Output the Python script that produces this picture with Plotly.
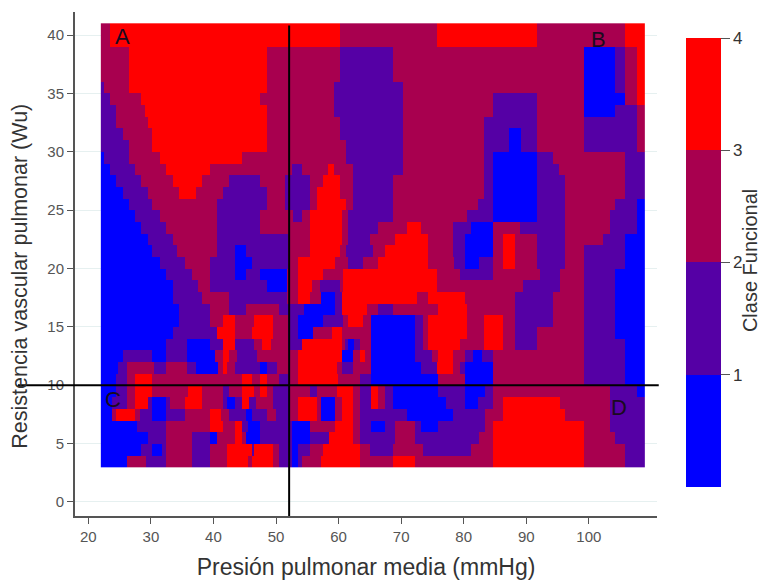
import numpy as np
import plotly.graph_objects as go

# Each row: class, x where it ends, class, x where it ends, ... last class runs to the right edge
rows_top_down = [
 [3,23.5,4,60.3,3,75.8,4,91.8,3,105.8,4],
 [3,23.5,4,60.3,3,75.8,4,91.8,3,105.8,4],
 [3,26.4,4,48.4,3,60.3,2,68.8,3,99.2,1,104.3,2,105.8,3,107.7,4],
 [3,26.4,4,48.4,3,60.3,2,68.8,3,99.2,1,104.3,2,105.8,3,107.7,4],
 [3,26.4,4,48.4,3,60.3,2,68.8,3,99.2,1,104.3,2,105.8,3,107.7,4],
 [2,22.5,3,26.4,4,48.4,3,59.3,2,70.3,3,99.2,1,104.3,2,105.8,3,107.7,4],
 [2,23.5,3,28.5,4,47.5,3,59.3,2,70.3,3,84.8,2,91.8,3,99.2,1,105.8,3,107.7,4],
 [2,24.5,3,29,4,48.4,3,59.3,2,70.3,3,84.8,2,91.8,3,99.2,1,104.3,2,107.7,3],
 [2,24.5,3,29.4,4,48.4,3,60.3,2,70.3,3,83.3,2,91.8,3,99.2,2,107.7,3],
 [2,25.4,3,30.3,4,48.4,3,60.3,2,70.3,3,83.3,2,87.2,1,89.3,2,91.8,3,99.2,2,107.7,3],
 [2,26.4,3,30.3,4,48.4,3,61.3,2,70.3,3,83.3,2,87.2,1,89.3,2,91.8,3,99.2,2,107.7,3],
 [1,22.5,2,26.4,3,31.4,4,44.5,3,61.3,2,70.3,3,83.3,2,84.8,1,91.8,2,94.2,3,105.8,2],
 [1,23.5,2,27.5,3,32.5,4,39.4,3,52.5,2,54.3,3,58.2,4,59.3,3,62.3,2,70.3,3,83.3,2,84.8,1,91.8,2,95.3,3,105.8,2],
 [1,24.5,2,28.5,3,33.5,4,38.3,3,42.4,2,47.4,3,51.4,2,55.4,3,57.4,4,60.3,3,62.3,2,68.8,3,83.3,2,84.8,1,91.8,2,96.3,3,105.8,2],
 [1,25.4,2,29.4,3,34.6,4,37.2,3,41.5,2,48.4,3,51.4,2,55.4,3,56.5,4,60.3,3,62.3,2,68.8,3,83.3,2,84.8,1,91.8,2,96.3,3,105.8,2],
 [1,26.4,2,30.3,3,40.5,2,48.4,3,51.4,2,55.4,3,56.5,4,61.3,3,62.3,2,68.8,3,82.3,2,84.8,1,91.8,2,96.3,3,104.3,2,107.7,1],
 [1,27.5,2,31.4,3,40.5,2,47.4,3,52.7,2,54.3,3,55.5,4,60.5,3,61.5,2,68.8,3,80.5,2,84.8,1,91.8,2,96.3,3,103.4,2,107.7,1],
 [1,28.5,2,32.5,3,40.5,2,47.4,3,55.4,4,60.5,3,61.5,2,66.3,3,71,4,73.3,3,78.3,2,81.3,1,84.8,3,89,2,96.3,3,103.4,2,107.7,1],
 [1,29.4,2,33.5,3,40.5,2,52,3,55.4,4,60.5,3,61.5,2,65,3,69,4,74.3,3,78.3,2,80.3,1,84.8,3,86.3,4,88.3,3,91.7,2,96.3,3,102.3,2,105.8,1],
 [1,30.3,2,34.3,3,40.5,2,43.4,1,45.3,2,52,3,55.4,4,60.2,3,61.3,2,65.5,3,67.4,4,74.3,3,78.3,2,80.3,1,84.8,3,86.3,4,88.3,3,91.8,2,96.3,3,99.2,2,105.8,1],
 [1,31.4,2,35.4,3,39.5,2,43.4,1,46.3,2,52,3,53.5,4,59.4,3,61.5,2,64,3,66.3,4,74.3,3,78.5,2,80.3,1,82.5,2,84.8,3,86.3,4,88.3,3,91.8,2,96.3,3,99.2,2,105.8,1],
 [1,32.5,2,36.5,3,39.5,2,43.4,1,45.3,2,47.4,1,51.7,3,53.5,4,57.5,3,60.7,4,75.7,3,79.4,2,84.7,3,92.2,2,95.4,3,99.2,2,104.3,1],
 [1,33.5,2,37.5,3,39.5,2,48.5,1,51.7,3,53.5,4,55.7,3,57,2,60.2,3,60.7,4,75.7,3,89.5,2,95.4,3,99.2,2,104.3,1],
 [1,33.5,2,38.3,3,42.6,2,51.7,3,53.5,4,55.5,3,57.2,1,59.4,2,60.5,4,72.5,3,74.3,4,80.2,3,88.2,2,94.2,3,99.2,2,104.3,1],
 [1,34.5,2,39.5,3,42.6,2,45.3,3,50.6,2,54.5,1,59.4,2,60.5,4,64.5,3,66.3,2,68.7,3,76,4,80.5,3,88.2,2,94.2,3,99.2,2,104.3,1],
 [1,34.5,2,39.5,3,41.5,4,43.4,3,46.6,4,49.5,3,52,2,53.5,1,57.5,2,60.7,3,61.5,4,64,3,65.3,1,72.2,2,73.5,3,74.3,4,80.5,3,83.3,4,86.3,3,88.2,2,94.2,3,99.2,2,104.3,1],
 [1,33.5,2,40.5,4,43.4,3,46.3,4,49.5,3,52,2,53.5,1,56,3,58.9,4,60.5,3,65.3,1,72.2,2,73.5,3,74.3,4,80.5,3,83.3,4,86.3,3,88.3,2,91.8,3,99.2,2,104.3,1],
 [1,32.5,2,35.7,1,39.4,2,41.5,4,43.4,2,46.6,3,47.7,4,49.2,3,52,2,54.3,4,60.5,3,61,2,61.5,1,62.5,2,63.5,3,65.3,1,72.2,2,73.5,3,74.3,4,79.4,3,83.3,4,86.3,3,88.3,2,91.8,3,99.2,2,105.8,1],
 [1,25.5,2,30.3,1,32.5,2,35.7,1,40.2,3,41.5,4,42.6,3,43.7,2,47.1,3,53.5,4,60.5,1,62.3,3,63.4,4,64.2,3,65.3,1,72.2,2,75,3,75.9,4,78.3,3,80.3,2,81.5,1,83,2,84.8,3,99.2,2,105.8,1],
 [1,24.7,2,26.3,3,30.6,2,32.5,3,35.7,2,37.3,1,40.7,3,41.5,4,42.3,3,43.4,2,47.4,1,48.5,2,50.3,3,53.5,4,59.7,3,60.5,2,62.3,3,65.3,1,73.3,2,75.7,4,78.3,3,79.4,2,80.3,1,84.8,3,99.2,2,105.8,1],
 [1,24.5,2,26.3,3,27.4,4,30.3,3,44.5,4,46.3,3,47.4,4,48.5,3,50.6,2,52,3,53.5,4,60,3,63.4,2,65.3,1,75.9,3,80.3,1,84.8,3,99.2,2,105.8,1],
 [1,24.5,2,26.3,3,27.4,4,30.3,3,36,4,38.3,3,41.5,2,42.6,3,44.5,4,46.6,3,47.4,4,48.5,3,49.5,2,52.2,3,55.4,2,56.5,3,59.7,4,62.3,3,63.4,2,65.3,4,66.3,3,67.4,2,68.7,1,75.9,2,80.3,1,83.4,2,84.8,3,103.4,2,107.7,1],
 [1,23.7,2,26.3,3,27.4,4,29.5,2,30.3,1,32.5,2,33,3,35.4,4,38.3,3,41.5,2,42.3,1,43.5,2,44.5,4,45.8,2,46.8,3,49.5,2,52.2,3,53.5,4,56.5,3,57.3,1,59.4,3,60.5,4,62.3,3,63.4,2,65.3,4,66.3,3,67.4,2,68.7,1,77.3,2,80.3,1,82.3,2,84.8,3,86.3,4,95.5,3,103.4,2],
 [1,23.7,3,24.5,4,27.4,3,28.2,2,30.3,1,32.5,2,35.4,3,39.5,4,41.3,3,42.6,2,45.3,1,46.3,2,48.4,3,50,2,52.2,3,53.5,4,56.5,3,57.3,1,59.4,3,60.5,4,62.3,3,63.4,2,71.1,1,78.3,2,83.4,3,86.3,4,96.3,3,103.4,2],
 [1,27.7,2,32.5,3,39.4,4,41.5,3,43.5,4,44.5,2,45.5,1,47.4,2,52.5,1,55.4,3,59.4,4,62.3,3,63.4,2,65.3,1,67.4,2,69,3,72.2,2,73.3,1,75.9,2,83.4,3,84.8,4,99.2,3,103.4,2],
 [1,29.5,2,32.5,3,36.5,2,39.4,1,40.5,3,43.5,4,44.5,3,45.3,1,47.4,2,52.5,1,55.4,2,58.6,4,62.3,3,63.4,2,69,3,72.2,2,82.6,3,84.8,4,99.2,3,104.3,2],
 [1,28.5,2,30.3,1,31.7,2,32.5,3,36.5,2,39.5,3,42.3,4,46.3,2,46.6,4,49.5,3,50.6,2,52.5,1,53.5,2,55.4,3,57.5,4,63.4,3,65,2,68.7,3,73.5,2,81.3,3,84.8,4,99.2,3,105.8,2],
 [1,26.3,3,29.2,2,32.5,3,36.5,2,39.5,3,42.3,4,45.5,3,46.3,4,49.5,3,50.6,2,52.5,1,53.5,2,54.3,3,57.3,4,63.4,3,68.7,4,72.2,3,84.8,4,99.2,3,105.8,2],
]
y_centers = [40.5 - i for i in range(len(rows_top_down))]
x_centers = list(np.arange(22.125, 109, 0.25))
class_colors = ["#0000FF", "#5500A5", "#A8004F", "#FF0000"]
x_ticks = [20, 30, 40, 50, 60, 70, 80, 90, 100]
y_ticks = [0, 5, 10, 15, 20, 25, 30, 35, 40]
cb_ticks = [1, 2, 3, 4]
corner_labels = [("A", 25.5, 39.9), ("B", 101.5, 39.6), ("C", 24.0, 8.8), ("D", 104.8, 8.1)]
cut_x = 52.1
cut_y = 10.0


def expand(row):
    out = []
    for x in x_centers:
        value = row[-1]
        for k in range(0, len(row) - 1, 2):
            if x < row[k + 1]:
                value = row[k]
                break
        out.append(value - 0.5)
    return out


z = [expand(r) for r in rows_top_down]

scale = []
for i, c in enumerate(class_colors):
    scale += [[i / 4, c], [(i + 1) / 4, c]]

ink = "#333333"
tick_ink = "#555555"
fig = go.Figure(go.Heatmap(
    x=x_centers, y=y_centers, z=z, zmin=0, zmax=4, colorscale=scale, hoverongaps=False,
    colorbar=dict(
        lenmode="pixels", len=449, thickness=35, thicknessmode="pixels",
        x=1.0498, xanchor="left", y=0.0575, yanchor="bottom", outlinewidth=0,
        xpad=0, ypad=0,
        tickvals=cb_ticks, ticks="outside", ticklen=9, tickcolor=tick_ink,
        tickfont=dict(family="Liberation Sans", size=17, color=ink),
    ),
))

fig.update_layout(
    width=764, height=572, autosize=False,
    margin=dict(l=67, r=115, t=4, b=64, autoexpand=False),
    paper_bgcolor="white", plot_bgcolor="white",
    xaxis=dict(range=[17.87, 110.9], tickvals=x_ticks, ticks="outside", ticklen=6, tickcolor=tick_ink,
               showgrid=False, zeroline=False, showline=True, linecolor=tick_ink, linewidth=2,
               tickfont=dict(family="Liberation Sans", size=15, color=tick_ink),
               title=dict(text="Presión pulmonar media (mmHg)", standoff=16,
                          font=dict(family="Liberation Sans", size=23, color=ink))),
    yaxis=dict(range=[-1.2, 41.97], tickvals=y_ticks, ticks="outside", ticklen=6, tickcolor=tick_ink,
               showgrid=True, gridcolor="#E6F0F0", gridwidth=1, zeroline=False,
               showline=True, linecolor=tick_ink, linewidth=2,
               tickfont=dict(family="Liberation Sans", size=15, color=tick_ink)),
    showlegend=False,
)

fig.add_annotation(xref="paper", yref="paper", x=-0.118, y=0.4755, textangle=-90, showarrow=False,
                   text="Resistencia vascular pulmonar (Wu)",
                   font=dict(family="Liberation Sans", size=21.5, color=ink))
fig.add_annotation(xref="paper", yref="paper", x=1.16, xanchor="center", y=0.506, textangle=-90, showarrow=False,
                   text="Clase Funcional",
                   font=dict(family="Liberation Sans", size=20, color=ink))

fig.add_shape(type="line", xref="paper", yref="y", x0=-0.098, x1=1.003, y0=cut_y, y1=cut_y,
              line=dict(color="black", width=2))
fig.add_shape(type="line", xref="x", yref="paper", x0=cut_x, x1=cut_x, y0=0, y1=0.973,
              line=dict(color="black", width=2))

for text, x, y in corner_labels:
    fig.add_annotation(x=x, y=y, text=text, showarrow=False,
                       font=dict(family="Liberation Sans", size=22, color="#1a0a20"))

fig.write_html("out.html")
